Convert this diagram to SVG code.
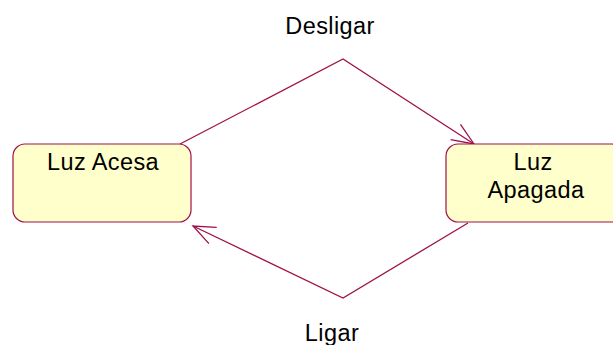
<svg xmlns="http://www.w3.org/2000/svg" width="613" height="345" viewBox="0 0 613 345">
  <style>
    .state { fill: #FFFFCC; stroke: #A0104A; stroke-width: 1.2; }
    .label { font-family: "Liberation Sans", Arial, sans-serif; font-size: 23.5px; fill: #000; text-anchor: middle; letter-spacing: 0.4px; }
    .edge { fill: none; stroke: #A0104A; stroke-width: 1.3; }
  </style>
  <defs>
    <marker id="open-arrow" markerUnits="userSpaceOnUse" markerWidth="30" markerHeight="24" refX="0" refY="0" viewBox="-26 -12 30 24" orient="auto">
      <path d="M -22,-9 L 0,0 L -22,9" fill="none" stroke="#A0104A" stroke-width="1.3"/>
    </marker>
  </defs>
  <rect width="613" height="345" fill="#FFFFFF"/>

  <g id="connectors">
    <polyline class="edge" points="180,144 343,59 474,144" marker-end="url(#open-arrow)"/>
    <polyline class="edge" points="468,223 343,298 193,226" marker-end="url(#open-arrow)"/>
    <text class="label" x="330" y="34">Desligar</text>
    <text class="label" x="332" y="341">Ligar</text>
  </g>

  <g id="luz-acesa">
    <rect class="state" x="13" y="144" width="178" height="78" rx="12" ry="12"/>
    <text class="label" x="103" y="170" letter-spacing="0.9">Luz Acesa</text>
  </g>

  <g id="luz-apagada">
    <rect class="state" x="446" y="144" width="178" height="78" rx="12" ry="12"/>
    <text class="label" x="533" y="170">Luz</text>
    <text class="label" x="536" y="198">Apagada</text>
  </g>
</svg>
